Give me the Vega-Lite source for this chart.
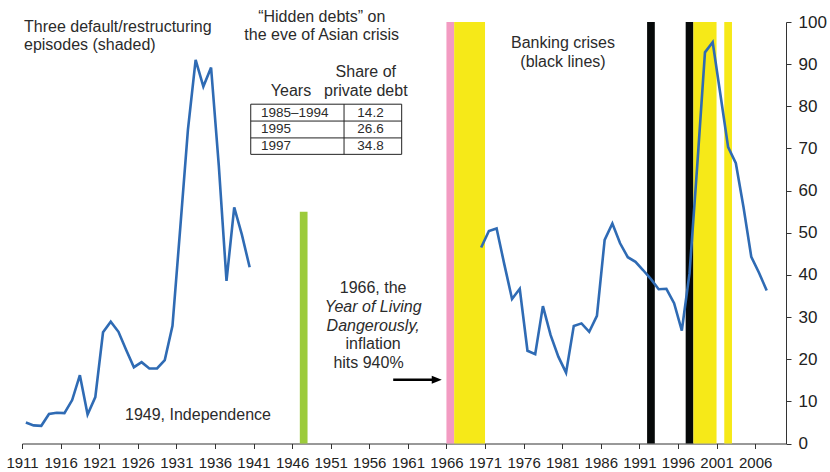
{
  "$schema": "https://vega.github.io/schema/vega-lite/v6.json",
  "width": 764,
  "height": 421.5,
  "autosize": "none",
  "padding": {"left": 22, "top": 22, "right": 44, "bottom": 28.5},
  "background": "white",
  "config": {
    "view": {"stroke": null},
    "font": "Liberation Sans",
    "text": {"font": "Liberation Sans", "color": "#2b2b2b"},
    "axis": {"grid": false, "domainColor": "#333", "tickColor": "#333", "tickSize": 5, "labelColor": "#222", "labelFont": "Liberation Sans"}
  },
  "data": {"values": [{}]},
  "datasets": {
    "bands": [
      {"start": 1946.5, "end": 1947.5, "top": 55, "kind": "Independence"},
      {"start": 1965.5, "end": 1966.5, "top": 100, "kind": "Inflation"},
      {"start": 1966.5, "end": 1970.5, "top": 100, "kind": "Default"},
      {"start": 1991.5, "end": 1992.5, "top": 100, "kind": "Banking"},
      {"start": 1996.5, "end": 1997.5, "top": 100, "kind": "Banking"},
      {"start": 1997.5, "end": 2000.5, "top": 100, "kind": "Default"},
      {"start": 2001.5, "end": 2002.5, "top": 100, "kind": "Default"}
    ],
    "series": [
      {"year": 1911, "value": 5.0, "period": "A"},
      {"year": 1912, "value": 4.3, "period": "A"},
      {"year": 1913, "value": 4.2, "period": "A"},
      {"year": 1914, "value": 7.0, "period": "A"},
      {"year": 1915, "value": 7.3, "period": "A"},
      {"year": 1916, "value": 7.2, "period": "A"},
      {"year": 1917, "value": 10.3, "period": "A"},
      {"year": 1918, "value": 16.2, "period": "A"},
      {"year": 1919, "value": 6.9, "period": "A"},
      {"year": 1920, "value": 11.0, "period": "A"},
      {"year": 1921, "value": 26.4, "period": "A"},
      {"year": 1922, "value": 28.9, "period": "A"},
      {"year": 1923, "value": 26.5, "period": "A"},
      {"year": 1924, "value": 22.2, "period": "A"},
      {"year": 1925, "value": 18.1, "period": "A"},
      {"year": 1926, "value": 19.3, "period": "A"},
      {"year": 1927, "value": 17.8, "period": "A"},
      {"year": 1928, "value": 17.8, "period": "A"},
      {"year": 1929, "value": 19.8, "period": "A"},
      {"year": 1930, "value": 27.9, "period": "A"},
      {"year": 1931, "value": 51.0, "period": "A"},
      {"year": 1932, "value": 74.4, "period": "A"},
      {"year": 1933, "value": 91.0, "period": "A"},
      {"year": 1934, "value": 84.7, "period": "A"},
      {"year": 1935, "value": 89.2, "period": "A"},
      {"year": 1936, "value": 66.0, "period": "A"},
      {"year": 1937, "value": 38.6, "period": "A"},
      {"year": 1938, "value": 56.0, "period": "A"},
      {"year": 1939, "value": 49.5, "period": "A"},
      {"year": 1940, "value": 41.8, "period": "A"},
      {"year": 1970, "value": 46.5, "period": "B"},
      {"year": 1971, "value": 50.4, "period": "B"},
      {"year": 1972, "value": 51.0, "period": "B"},
      {"year": 1973, "value": 42.5, "period": "B"},
      {"year": 1974, "value": 34.3, "period": "B"},
      {"year": 1975, "value": 36.7, "period": "B"},
      {"year": 1976, "value": 22.0, "period": "B"},
      {"year": 1977, "value": 21.2, "period": "B"},
      {"year": 1978, "value": 32.6, "period": "B"},
      {"year": 1979, "value": 25.7, "period": "B"},
      {"year": 1980, "value": 20.6, "period": "B"},
      {"year": 1981, "value": 16.8, "period": "B"},
      {"year": 1982, "value": 27.9, "period": "B"},
      {"year": 1983, "value": 28.5, "period": "B"},
      {"year": 1984, "value": 26.5, "period": "B"},
      {"year": 1985, "value": 30.3, "period": "B"},
      {"year": 1986, "value": 48.3, "period": "B"},
      {"year": 1987, "value": 52.2, "period": "B"},
      {"year": 1988, "value": 47.5, "period": "B"},
      {"year": 1989, "value": 44.2, "period": "B"},
      {"year": 1990, "value": 43.1, "period": "B"},
      {"year": 1991, "value": 41.1, "period": "B"},
      {"year": 1992, "value": 39.0, "period": "B"},
      {"year": 1993, "value": 36.6, "period": "B"},
      {"year": 1994, "value": 36.7, "period": "B"},
      {"year": 1995, "value": 33.3, "period": "B"},
      {"year": 1996, "value": 26.8, "period": "B"},
      {"year": 1997, "value": 40.4, "period": "B"},
      {"year": 1998, "value": 66.0, "period": "B"},
      {"year": 1999, "value": 92.8, "period": "B"},
      {"year": 2000, "value": 95.2, "period": "B"},
      {"year": 2001, "value": 82.8, "period": "B"},
      {"year": 2002, "value": 70.3, "period": "B"},
      {"year": 2003, "value": 66.5, "period": "B"},
      {"year": 2004, "value": 56.0, "period": "B"},
      {"year": 2005, "value": 44.3, "period": "B"},
      {"year": 2006, "value": 40.5, "period": "B"},
      {"year": 2007, "value": 36.3, "period": "B"}
    ],
    "table": [
      {"years": "1985–1994", "share": "14.2"},
      {"years": "1995", "share": "26.6"},
      {"years": "1997", "share": "34.8"}
    ]
  },
  "layer": [
    {
      "data": {"name": "bands"},
      "mark": {"type": "rect"},
      "encoding": {
        "x": {"field": "start", "type": "quantitative", "axis": {"title": null},
              "scale": {"domain": [1910.5, 2009.5], "nice": false, "zero": false}},
        "x2": {"field": "end"},
        "y": {"field": "top", "type": "quantitative", "axis": {"title": null},
              "scale": {"domain": [0, 100], "nice": false}},
        "y2": {"datum": 0},
        "color": {
          "field": "kind", "type": "nominal", "legend": null,
          "scale": {
            "domain": ["Independence", "Inflation", "Default", "Banking"],
            "range": ["#9ccb3b", "#f39bc2", "#f6e918", "#060909"]
          }
        }
      }
    },
    {
      "data": {"name": "series"},
      "mark": {"type": "line", "color": "#2f6bb4", "strokeWidth": 2.6, "strokeJoin": "miter"},
      "encoding": {
        "x": {
          "field": "year", "type": "quantitative",
          "axis": {
            "title": null,
            "values": [1910.5, 1915.5, 1920.5, 1925.5, 1930.5, 1935.5, 1940.5, 1945.5, 1950.5, 1955.5, 1960.5, 1965.5, 1970.5, 1975.5, 1980.5, 1985.5, 1990.5, 1995.5, 2000.5, 2005.5],
            "labelExpr": "format(datum.value + 0.5, 'd')",
            "labelFontSize": 15, "labelPadding": 7,
            "labelFlush": false, "labelOverlap": false
          }
        },
        "y": {
          "field": "value", "type": "quantitative",
          "axis": {
            "title": null,
            "orient": "right",
            "values": [0, 10, 20, 30, 40, 50, 60, 70, 80, 90, 100],
            "labelFontSize": 17, "labelPadding": 7
          }
        },
        "detail": {"field": "period"}
      }
    },
    {
      "mark": {"type": "text", "align": "left", "baseline": "alphabetic", "fontSize": 16, "lineHeight": 18.5,
               "text": ["Three default/restructuring", "episodes (shaded)"]},
      "encoding": {"x": {"datum": 1910.76, "axis": {"title": null}}, "y": {"datum": 97.7, "axis": {"title": null}}}
    },
    {
      "mark": {"type": "text", "align": "center", "baseline": "alphabetic", "fontSize": 16, "lineHeight": 18,
               "text": ["“Hidden debts” on", "the eve of Asian crisis"]},
      "encoding": {"x": {"datum": 1949.34, "axis": {"title": null}}, "y": {"datum": 99.95, "axis": {"title": null}}}
    },
    {
      "mark": {"type": "text", "align": "center", "baseline": "alphabetic", "fontSize": 16, "lineHeight": 18.4,
               "text": ["Share of", "private debt"]},
      "encoding": {"x": {"datum": 1955.05, "axis": {"title": null}}, "y": {"datum": 86.9, "axis": {"title": null}}}
    },
    {
      "mark": {"type": "text", "align": "center", "baseline": "alphabetic", "fontSize": 16, "text": "Years"},
      "encoding": {"x": {"datum": 1945.36, "axis": {"title": null}}, "y": {"datum": 82.5, "axis": {"title": null}}}
    },
    {
      "mark": {"type": "text", "align": "center", "baseline": "alphabetic", "fontSize": 16, "lineHeight": 18.5,
               "text": ["Banking crises", "(black lines)"]},
      "encoding": {"x": {"datum": 1980.6, "axis": {"title": null}}, "y": {"datum": 93.76, "axis": {"title": null}}}
    },
    {
      "mark": {"type": "text", "align": "left", "baseline": "alphabetic", "fontSize": 16, "text": "1949, Independence"},
      "encoding": {"x": {"datum": 1923.85, "axis": {"title": null}}, "y": {"datum": 5.57, "axis": {"title": null}}}
    },
    {
      "mark": {"type": "text", "align": "center", "baseline": "alphabetic", "fontSize": 16, "text": "1966, the"},
      "encoding": {"x": {"datum": 1956.0, "axis": {"title": null}}, "y": {"datum": 35.6, "axis": {"title": null}}}
    },
    {
      "mark": {"type": "text", "align": "center", "baseline": "alphabetic", "fontSize": 16, "lineHeight": 18.6, "fontStyle": "italic",
               "text": ["Year of Living", "Dangerously,"]},
      "encoding": {"x": {"datum": 1956.0, "axis": {"title": null}}, "y": {"datum": 31.19, "axis": {"title": null}}}
    },
    {
      "mark": {"type": "text", "align": "center", "baseline": "alphabetic", "fontSize": 16, "text": "inflation"},
      "encoding": {"x": {"datum": 1956.0, "axis": {"title": null}}, "y": {"datum": 22.36, "axis": {"title": null}}}
    },
    {
      "mark": {"type": "text", "align": "center", "baseline": "alphabetic", "fontSize": 16, "text": "hits 940%"},
      "encoding": {"x": {"datum": 1955.4, "axis": {"title": null}}, "y": {"datum": 17.95, "axis": {"title": null}}}
    },
    {
      "mark": {"type": "rule", "color": "#000", "strokeWidth": 2.5},
      "encoding": {"x": {"datum": 1958.6, "axis": {"title": null}}, "x2": {"datum": 1964.2}, "y": {"datum": 15.1, "axis": {"title": null}}}
    },
    {
      "mark": {"type": "point", "shape": "M-1,-0.8L1,0L-1,0.8Z", "filled": true, "color": "#000", "opacity": 1, "size": 100},
      "encoding": {"x": {"datum": 1964.24, "axis": {"title": null}}, "y": {"datum": 15.1, "axis": {"title": null}}}
    },
    {
      "mark": {"type": "rect", "fill": "white", "stroke": "#222", "strokeWidth": 1},
      "encoding": {"x": {"datum": 1940.14, "axis": {"title": null}}, "x2": {"datum": 1959.7}, "y": {"datum": 80.5, "axis": {"title": null}}, "y2": {"datum": 68.6}}
    },
    {
      "mark": {"type": "rule", "color": "#222", "strokeWidth": 1},
      "encoding": {"x": {"datum": 1940.14, "axis": {"title": null}}, "x2": {"datum": 1959.7}, "y": {"datum": 76.5, "axis": {"title": null}}}
    },
    {
      "mark": {"type": "rule", "color": "#222", "strokeWidth": 1},
      "encoding": {"x": {"datum": 1940.14, "axis": {"title": null}}, "x2": {"datum": 1959.7}, "y": {"datum": 72.5, "axis": {"title": null}}}
    },
    {
      "mark": {"type": "rule", "color": "#222", "strokeWidth": 1},
      "encoding": {"x": {"datum": 1952.23, "axis": {"title": null}}, "y": {"datum": 80.5, "axis": {"title": null}}, "y2": {"datum": 68.6}}
    },
    {
      "data": {"name": "table"},
      "transform": [{"filter": "datum.years == '1985–1994'"}],
      "layer": [
        {"mark": {"type": "text", "align": "left", "baseline": "middle", "fontSize": 13.5},
         "encoding": {"x": {"datum": 1941.47, "axis": {"title": null}}, "y": {"datum": 78.5, "axis": {"title": null}}, "text": {"field": "years"}}},
        {"mark": {"type": "text", "align": "center", "baseline": "middle", "fontSize": 13.5},
         "encoding": {"x": {"datum": 1955.66, "axis": {"title": null}}, "y": {"datum": 78.5, "axis": {"title": null}}, "text": {"field": "share"}}}
      ]
    },
    {
      "data": {"name": "table"},
      "transform": [{"filter": "datum.years == '1995'"}],
      "layer": [
        {"mark": {"type": "text", "align": "left", "baseline": "middle", "fontSize": 13.5},
         "encoding": {"x": {"datum": 1941.47, "axis": {"title": null}}, "y": {"datum": 74.5, "axis": {"title": null}}, "text": {"field": "years"}}},
        {"mark": {"type": "text", "align": "center", "baseline": "middle", "fontSize": 13.5},
         "encoding": {"x": {"datum": 1955.66, "axis": {"title": null}}, "y": {"datum": 74.5, "axis": {"title": null}}, "text": {"field": "share"}}}
      ]
    },
    {
      "data": {"name": "table"},
      "transform": [{"filter": "datum.years == '1997'"}],
      "layer": [
        {"mark": {"type": "text", "align": "left", "baseline": "middle", "fontSize": 13.5},
         "encoding": {"x": {"datum": 1941.47, "axis": {"title": null}}, "y": {"datum": 70.55, "axis": {"title": null}}, "text": {"field": "years"}}},
        {"mark": {"type": "text", "align": "center", "baseline": "middle", "fontSize": 13.5},
         "encoding": {"x": {"datum": 1955.66, "axis": {"title": null}}, "y": {"datum": 70.55, "axis": {"title": null}}, "text": {"field": "share"}}}
      ]
    }
  ]
}
